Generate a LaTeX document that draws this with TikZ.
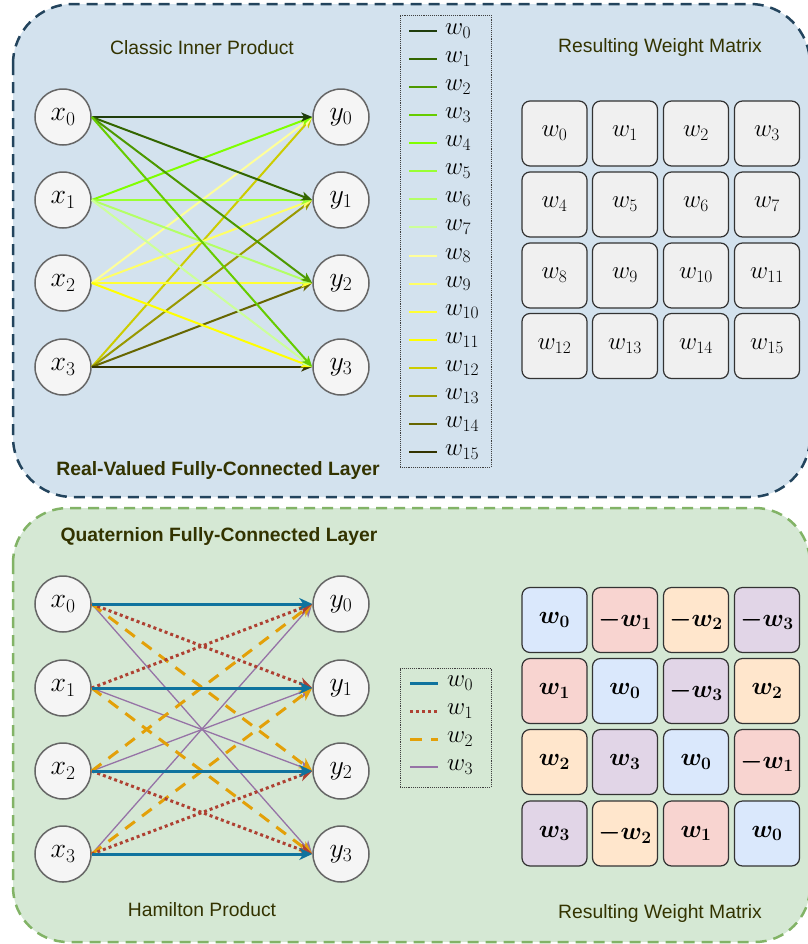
\RequirePackage{fix-cm}
\documentclass[tikz,border=0pt]{standalone}
\usepackage[no-math]{fontspec}
\newfontfamily\arial{Liberation Sans}
\usetikzlibrary{arrows.meta}
\definecolor{topfill}{HTML}{D3E2EE}
\definecolor{topline}{HTML}{23445D}
\definecolor{botfill}{HTML}{D5E8D4}
\definecolor{botline}{HTML}{82B366}
\definecolor{ttl}{HTML}{333300}
\definecolor{nfill}{HTML}{F5F5F5}
\definecolor{nline}{HTML}{666666}
\definecolor{wc0}{HTML}{1F3D0C}
\definecolor{wc1}{HTML}{336600}
\definecolor{wc2}{HTML}{4D9900}
\definecolor{wc3}{HTML}{66CC00}
\definecolor{wc4}{HTML}{80FF00}
\definecolor{wc5}{HTML}{99FF33}
\definecolor{wc6}{HTML}{B3FF66}
\definecolor{wc7}{HTML}{CCFF99}
\definecolor{wc8}{HTML}{FFFF99}
\definecolor{wc9}{HTML}{FFFF66}
\definecolor{wc10}{HTML}{FFFF33}
\definecolor{wc11}{HTML}{FFFF00}
\definecolor{wc12}{HTML}{CCCC00}
\definecolor{wc13}{HTML}{999900}
\definecolor{wc14}{HTML}{666600}
\definecolor{wc15}{HTML}{333300}
\definecolor{qa}{HTML}{10739E}
\definecolor{qb}{HTML}{AE4132}
\definecolor{qc}{HTML}{E3A008}
\definecolor{qd}{HTML}{9673A6}
\definecolor{cblue}{HTML}{DAE8FC}
\definecolor{cred}{HTML}{F8D4D0}
\definecolor{corange}{HTML}{FFE6CC}
\definecolor{cpurple}{HTML}{E1D5E7}
\tikzset{
  title/.style={font=\arial\fontsize{19.4}{22}\selectfont, text=ttl},
  btitle/.style={font=\arial\bfseries\fontsize{19.4}{22}\selectfont, text=ttl},
  neuron/.style={circle, minimum size=56bp, inner sep=0pt, fill=nfill, draw=nline, line width=1.5bp, font=\fontsize{28}{32}\selectfont},
  cell/.style={rounded corners=8bp, minimum width=65bp, minimum height=65bp, inner sep=0pt, draw=black!80, line width=1.2bp, font=\fontsize{25}{28}\selectfont},
  graycell/.style={cell, fill=black!6},
  qcell/.style={cell, fill=#1, font=\fontsize{25}{28}\selectfont\boldmath},
  legbox/.style={draw=black!75, densely dotted, line width=0.9bp, inner sep=0pt},
  leglabel/.style={anchor=west, inner sep=0pt, font=\fontsize{25}{28}\selectfont},
  topedge/.style={line width=2bp, -{Stealth[length=11bp, width=9bp, inset=3bp]}},
  qedge/.style={-{Stealth[length=13bp, width=12bp, inset=4bp]}},
  qw0/.style={draw=qa, line width=3bp},
  qw1/.style={draw=qb, line width=3bp, dash pattern=on 3bp off 3bp},
  qw2/.style={draw=qc, line width=3bp, dash pattern=on 12bp off 9bp},
  qw3/.style={draw=qd, line width=1.3bp},
}
\begin{document}
\begin{tikzpicture}[x=1bp, y=-1bp]
\useasboundingbox (0,0) rectangle (808,944);
\clip (0,0) rectangle (808,944);
% panels
\path[fill=topfill, draw=topline, line width=2.5bp, dash pattern=on 11bp off 7bp, rounded corners=60bp] (13,4) rectangle (810,497);
\path[fill=botfill, draw=botline, line width=2.5bp, dash pattern=on 11bp off 7bp, rounded corners=55bp] (13,508) rectangle (810,942);

% ---------- top panel ----------
\node[title] (t1) at (202,48) {Classic Inner Product};
\node[title] (t2) at (660,48) {Resulting Weight Matrix};
\node[btitle] (t3) at (218,470) {Real-Valued Fully-Connected Layer};

\node[neuron] (a0) at (63,117) {$x_0$};
\node[neuron] (a1) at (63,200) {$x_1$};
\node[neuron] (a2) at (63,283) {$x_2$};
\node[neuron] (a3) at (63,367) {$x_3$};
\node[neuron] (b0) at (341,117) {$y_0$};
\node[neuron] (b1) at (341,200) {$y_1$};
\node[neuron] (b2) at (341,283) {$y_2$};
\node[neuron] (b3) at (341,367) {$y_3$};

\foreach \i in {3,2,1,0}{
  \foreach \j in {0,...,3}{
    \pgfmathtruncatemacro\k{4*\i+\j}
    \draw[topedge, draw=wc\k] (a\i.east) -- (b\j.west);
  }
}

% legend
\node[legbox, minimum width=91bp, minimum height=452bp] (lg1) at (445.5,241) {};
\foreach \k in {0,...,15}{
  \pgfmathsetmacro\yy{31+28.07*\k}
  \draw[line width=2bp, draw=wc\k] (409,\yy) -- (437,\yy);
  \node[leglabel] (l\k) at (445,\yy) {$w_{\k}$};
}

% matrix
\foreach \r/\yy in {0/133.5,1/204.5,2/275.5,3/346}{
  \foreach \c/\xx in {0/554.5,1/625,2/696,3/767}{
    \pgfmathtruncatemacro\k{4*\r+\c}
    \node[graycell] (m\r\c) at (\xx,\yy) {$w_{\k}$};
  }
}

% ---------- bottom panel ----------
\node[btitle] (t4) at (219,536) {Quaternion Fully-Connected Layer};
\node[title] (t5) at (202,910) {Hamilton Product};
\node[title] (t6) at (660,913) {Resulting Weight Matrix};

\node[neuron] (c0) at (63,604) {$x_0$};
\node[neuron] (c1) at (63,688) {$x_1$};
\node[neuron] (c2) at (63,771) {$x_2$};
\node[neuron] (c3) at (63,854) {$x_3$};
\node[neuron] (d0) at (341,604) {$y_0$};
\node[neuron] (d1) at (341,688) {$y_1$};
\node[neuron] (d2) at (341,771) {$y_2$};
\node[neuron] (d3) at (341,854) {$y_3$};

% w3 purple
\foreach \i/\j in {0/3,3/0,1/2,2/1}{\draw[qedge, qw3] (c\i.east) -- (d\j.west);}
% w2 orange dashed
\foreach \i/\j in {0/2,2/0,1/3,3/1}{\draw[qedge, qw2] (c\i.east) -- (d\j.west);}
% w1 red dotted
\foreach \i/\j in {0/1,1/0,2/3,3/2}{\draw[qedge, qw1] (c\i.east) -- (d\j.west);}
% w0 blue
\foreach \i in {0,...,3}{\draw[qedge, qw0] (c\i.east) -- (d\i.west);}

% legend
\node[legbox, minimum width=91bp, minimum height=119bp] (lg2) at (445.5,727.5) {};
\draw[qw0] (410,683) -- (438,683);
\draw[qw1] (410,711) -- (438,711);
\draw[qw2] (410,739) -- (438,739);
\draw[qw3] (410,767) -- (438,767);
\node[leglabel] (k0) at (447,683) {$w_0$};
\node[leglabel] (k1) at (447,711) {$w_1$};
\node[leglabel] (k2) at (447,739) {$w_2$};
\node[leglabel] (k3) at (447,767) {$w_3$};

% quaternion matrix
\node[qcell=cblue]   (q00) at (554.5,620) {$w_0$};
\node[qcell=cred]    (q01) at (625,620)   {$-w_1$};
\node[qcell=corange] (q02) at (696,620)   {$-w_2$};
\node[qcell=cpurple] (q03) at (767,620)   {$-w_3$};
\node[qcell=cred]    (q10) at (554.5,691) {$w_1$};
\node[qcell=cblue]   (q11) at (625,691)   {$w_0$};
\node[qcell=cpurple] (q12) at (696,691)   {$-w_3$};
\node[qcell=corange] (q13) at (767,691)   {$w_2$};
\node[qcell=corange] (q20) at (554.5,762) {$w_2$};
\node[qcell=cpurple] (q21) at (625,762)   {$w_3$};
\node[qcell=cblue]   (q22) at (696,762)   {$w_0$};
\node[qcell=cred]    (q23) at (767,762)   {$-w_1$};
\node[qcell=cpurple] (q30) at (554.5,833.5) {$w_3$};
\node[qcell=corange] (q31) at (625,833.5) {$-w_2$};
\node[qcell=cred]    (q32) at (696,833.5) {$w_1$};
\node[qcell=cblue]   (q33) at (767,833.5) {$w_0$};
\end{tikzpicture}
\end{document}
